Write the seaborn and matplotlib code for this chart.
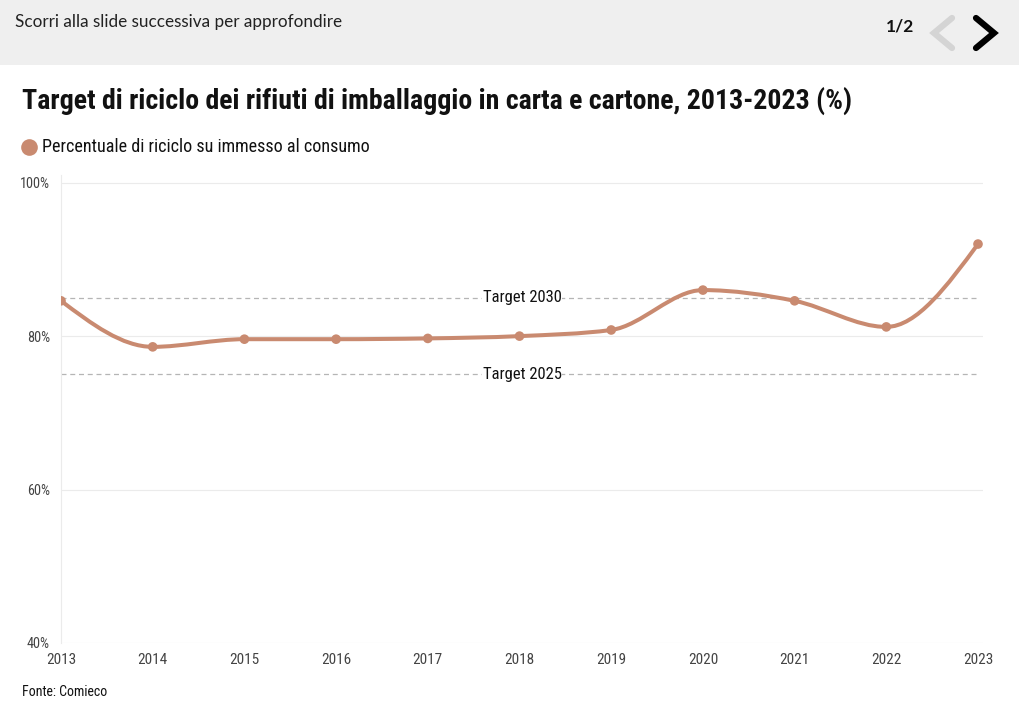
import numpy as np
import pandas as pd
import matplotlib
matplotlib.use("Agg")
import matplotlib.pyplot as plt
from matplotlib.path import Path
from matplotlib.patches import PathPatch, Rectangle
from matplotlib.lines import Line2D
import seaborn as sns

# data
years = [2013, 2014, 2015, 2016, 2017, 2018, 2019, 2020, 2021, 2022, 2023]
recycling_pct = [84.6, 78.6, 79.6, 79.6, 79.7, 80.0, 80.8, 86.0, 84.6, 81.2, 92.0]
targets = {"Target 2030": 85, "Target 2025": 75}
y_ticks = [40, 60, 80, 100]

series_name = "Percentuale di riciclo su immesso al consumo"
color = "#c98a70"

df = pd.DataFrame({"anno": years, "perc": recycling_pct})

sns.set_style("white")
cond = ["Roboto Condensed", "Liberation Sans Narrow", "DejaVu Sans"]
plt.rcParams["font.family"] = cond


def monotone_path(x, y):
    # smooth curve through the points (like d3 curveMonotoneX)
    x = np.asarray(x, float)
    y = np.asarray(y, float)
    n = len(x)
    h = np.diff(x)
    s = np.diff(y) / h
    t = np.zeros(n)
    for i in range(1, n - 1):
        p = (s[i - 1] * h[i] + s[i] * h[i - 1]) / (h[i - 1] + h[i])
        t[i] = (np.sign(s[i - 1]) + np.sign(s[i])) * min(abs(s[i - 1]), abs(s[i]), 0.5 * abs(p))
    t[0] = (3 * s[0] - t[1]) / 2
    t[-1] = (3 * s[-1] - t[-2]) / 2
    verts = [(x[0], y[0])]
    codes = [Path.MOVETO]
    for i in range(n - 1):
        dx = h[i] / 3
        verts += [(x[i] + dx, y[i] + dx * t[i]), (x[i + 1] - dx, y[i + 1] - dx * t[i + 1]), (x[i + 1], y[i + 1])]
        codes += [Path.CURVE4] * 3
    return Path(verts, codes)


fig = plt.figure(figsize=(10.2, 7.14), dpi=100)
fig.patch.set_facecolor("white")

# header band
fig.patches.append(Rectangle((0, 1 - 65 / 714), 1, 65 / 714, transform=fig.transFigure,
                             facecolor="#efefef", edgecolor="none", zorder=0))
fig.text(15 / 1020, 1 - 22 / 714, "Scorri alla slide successiva per approfondire",
         family=["Lato", "DejaVu Sans"], fontsize=12.3, color="#222222", va="center", ha="left")
fig.text(900 / 1020, 1 - 27 / 714, "1/2", family=["Lato", "DejaVu Sans"], fontsize=12.5,
         fontweight="bold", color="#111111", va="center", ha="center")
for xs, c in [((952, 934, 952), "#d4d4d4"), ((976, 994, 976), "#000000")]:
    fig.lines.append(Line2D([v / 1020 for v in xs], [1 - 18 / 714, 1 - 33 / 714, 1 - 48 / 714],
                            transform=fig.transFigure, color=c, linewidth=4.5,
                            solid_capstyle="round", solid_joinstyle="miter"))

# title, legend and source
fig.text(22 / 1020, 1 - 101 / 714, "Target di riciclo dei rifiuti di imballaggio in carta e cartone, 2013-2023 (%)",
         fontsize=20.1, fontweight="bold", color="#111111", va="center", ha="left")
fig.lines.append(Line2D([29 / 1020], [1 - 147 / 714], transform=fig.transFigure, marker="o",
                        markersize=12, markerfacecolor=color, markeredgecolor="none", linestyle="none"))
fig.text(42 / 1020, 1 - 147 / 714, series_name, fontsize=13.1, color="#111111", va="center", ha="left")
fig.text(22 / 1020, 1 - 692 / 714, "Fonte: Comieco", fontsize=10, color="#111111", va="center", ha="left")

ax = fig.add_axes([61 / 1020, 71 / 714, 922 / 1020, 468 / 714])
ax.set_xlim(2013, 2023 + 5 / 91.7)
ax.set_ylim(40, 101)

for v in y_ticks:
    ax.axhline(v, color="#ebebeb", linewidth=0.8, zorder=0)
for label, v in targets.items():
    ax.plot([years[0], years[-1]], [v, v], color="#b5b5b5", linewidth=0.9, dashes=(4, 3), zorder=1)
    ax.text(2018.03, v, label, fontsize=12, color="#111111", ha="center", va="center", zorder=2,
            bbox=dict(facecolor="white", edgecolor="none", pad=0.5))

ax.add_patch(PathPatch(monotone_path(df["anno"], df["perc"]), facecolor="none", edgecolor=color,
                       linewidth=2.9, capstyle="round", zorder=3))
sns.scatterplot(data=df, x="anno", y="perc", color=color, s=48, edgecolor="none", zorder=4, ax=ax, legend=False)

for sp in ["top", "right", "bottom"]:
    ax.spines[sp].set_visible(False)
ax.spines["left"].set_color("#ebebeb")
ax.spines["left"].set_linewidth(0.8)

ax.set_xticks(years)
ax.set_xticklabels([str(y) for y in years])
ax.set_yticks(y_ticks)
ax.set_yticklabels([f"{v}%" for v in y_ticks])
ax.tick_params(axis="x", length=0, labelsize=11, labelcolor="#444444", pad=7)
ax.tick_params(axis="y", length=0, labelsize=10.3, labelcolor="#444444", pad=8)
ax.set_xlabel("")
ax.set_ylabel("")
ax.grid(False)

fig.savefig("out.png", dpi=100)
